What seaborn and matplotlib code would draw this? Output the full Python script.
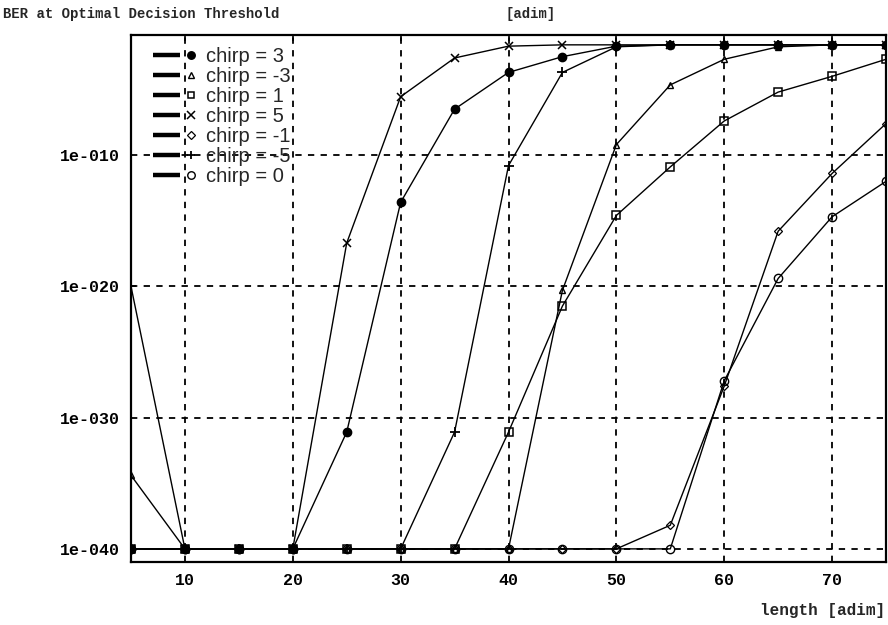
import numpy as np
import pandas as pd
import matplotlib
matplotlib.use("Agg")
import matplotlib.pyplot as plt
import seaborn as sns
from matplotlib.lines import Line2D
from matplotlib.legend_handler import HandlerBase
from matplotlib.ticker import FixedLocator, FuncFormatter, NullLocator

# ---- data (log10 of BER) ----
length = [5, 10, 15, 20, 25, 30, 35, 40, 45, 50, 55, 60, 65, 70, 75]
chirps = [3, -3, 1, 5, -1, -5, 0]
log_ber_c3 = [-40, -40, -40, -40, -31.1, -13.6, -6.5, -3.7, -2.5, -1.7, -1.6, -1.6, -1.6, -1.6, -1.6]
log_ber_cm3 = [-34.4, -40, -40, -40, -40, -40, -40, -40, -20.3, -9.2, -4.65, -2.7, -1.75, -1.6, -1.6]
log_ber_c1 = [-40, -40, -40, -40, -40, -40, -40, -31.1, -21.5, -14.6, -10.9, -7.4, -5.2, -4.0, -2.7]
log_ber_c5 = [-40, -40, -40, -40, -16.7, -5.55, -2.6, -1.7, -1.6, -1.6, -1.6, -1.6, -1.6, -1.6, -1.6]
log_ber_cm1 = [-40, -40, -40, -40, -40, -40, -40, -40, -40, -40, -38.2, -27.6, -15.8, -11.4, -7.6]
log_ber_cm5 = [-20, -40, -40, -40, -40, -40, -31.1, -10.8, -3.7, -1.75, -1.6, -1.6, -1.6, -1.6, -1.6]
log_ber_c0 = [-40, -40, -40, -40, -40, -40, -40, -40, -40, -40, -40, -27.2, -19.4, -14.7, -12.0]
series_logs = [log_ber_c3, log_ber_cm3, log_ber_c1, log_ber_c5, log_ber_cm1, log_ber_cm5, log_ber_c0]
x_ticks = [10, 20, 30, 40, 50, 60, 70]
y_tick_exps = [-10, -20, -30, -40]

# ---- styles ----
marker_styles = {
    3: dict(marker="o", ms=6.0, mfc="black", mew=1.0),
    -3: dict(marker="^", ms=5.0, mfc="none", mew=1.0),
    1: dict(marker="s", ms=5.5, mfc="none", mew=1.1),
    5: dict(marker="x", ms=6.0, mfc="black", mew=1.1),
    -1: dict(marker="D", ms=4.5, mfc="none", mew=0.9),
    -5: dict(marker="+", ms=7.0, mfc="black", mew=1.3),
    0: dict(marker="o", ms=6.0, mfc="none", mew=1.0),
}

sns.set_theme(style="white")
plt.rcParams["font.family"] = ["Liberation Mono", "DejaVu Sans Mono"]

fig = plt.figure(figsize=(8.88, 6.25), dpi=100)
ax = fig.add_axes([131 / 888, 1 - 562 / 625, (886 - 131) / 888, (562 - 35) / 625])

df = pd.DataFrame({
    "length": np.tile(length, len(chirps)),
    "ber": 10.0 ** np.concatenate([np.array(s, dtype=float) for s in series_logs]),
    "chirp": np.repeat(chirps, len(length)),
})

for c in chirps:
    sub = df[df["chirp"] == c]
    st = marker_styles[c]
    sns.lineplot(data=sub, x="length", y="ber", ax=ax, color="black", lw=1.0,
                 marker=st["marker"], markersize=st["ms"], markerfacecolor=st["mfc"],
                 markeredgecolor="black", markeredgewidth=st["mew"],
                 estimator=None, legend=False, clip_on=True, zorder=3)

ax.set_yscale("log")
ax.set_xlim(5, 75)
ax.set_ylim(10 ** -41.0, 10 ** -0.85)

ax.xaxis.set_major_locator(FixedLocator(x_ticks))
ax.yaxis.set_major_locator(FixedLocator([10.0 ** e for e in y_tick_exps]))
ax.yaxis.set_minor_locator(NullLocator())
ax.yaxis.set_major_formatter(FuncFormatter(lambda v, p: "1e-%03d" % int(round(-np.log10(v)))))

ax.grid(True, which="major", color="black", linestyle=(0, (3.5, 3.5)), linewidth=1.3)
ax.set_axisbelow(True)
for s in ax.spines.values():
    s.set_visible(True)
    s.set_color("black")
    s.set_linewidth(1.6)

ax.tick_params(axis="y", which="major", direction="out", length=4, width=1.2,
               labelsize=12, pad=4, colors="black")
ax.tick_params(axis="x", which="major", direction="in", length=4, width=1.2,
               bottom=False, top=True, labelsize=12, pad=8, colors="black")
for lab in ax.get_xticklabels() + ax.get_yticklabels():
    lab.set_fontweight("bold")
ax.tick_params(axis="x", labelbottom=True)

ax.set_xlabel("")
ax.set_ylabel("")

fig.text(3 / 888, 1 - 14 / 625, "BER at Optimal Decision Threshold", fontsize=10,
         fontweight="bold", ha="left", va="center")
fig.text(531 / 888, 1 - 14 / 625, "[adim]", fontsize=10, fontweight="bold",
         ha="center", va="center")
fig.text(885 / 888, 1 - 611 / 625, "length [adim]", fontsize=11.5, fontweight="bold",
         ha="right", va="center")


class LineMarkerHandler(HandlerBase):
    def create_artists(self, legend, orig_handle, xdescent, ydescent, width, height,
                       fontsize, trans):
        y = height / 2 - ydescent
        x0 = -xdescent
        line = Line2D([x0, x0 + width * 0.61], [y, y], color="black", lw=3.2,
                      solid_capstyle="butt")
        mk = Line2D([x0 + width * 0.86], [y], ls="none", marker=orig_handle.get_marker(),
                    markersize=orig_handle.get_markersize(),
                    markerfacecolor=orig_handle.get_markerfacecolor(),
                    markeredgecolor="black",
                    markeredgewidth=orig_handle.get_markeredgewidth())
        line.set_transform(trans)
        mk.set_transform(trans)
        return [line, mk]


handles = []
labels = []
for c in chirps:
    st = marker_styles[c]
    handles.append(Line2D([], [], marker=st["marker"], markersize=st["ms"] * 0.9,
                          markerfacecolor=st["mfc"], markeredgecolor="black",
                          markeredgewidth=st["mew"]))
    labels.append(f"chirp = {c}")

leg = ax.legend(handles, labels, handler_map={Line2D: LineMarkerHandler()},
                loc="upper left", bbox_to_anchor=(0.0127, 0.9993), frameon=False,
                prop={"family": "Liberation Sans", "size": 14.5},
                handlelength=2.2, handletextpad=0.45, labelspacing=0.05,
                borderaxespad=0.2)

fig.savefig("out.png", dpi=100)
